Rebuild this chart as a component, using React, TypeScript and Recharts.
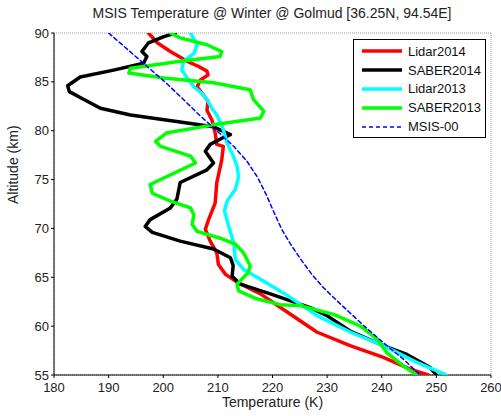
import React from "react";
import {
  ScatterChart,
  Scatter,
  XAxis,
  YAxis,
  CartesianGrid,
} from "recharts";

// [temperature K, altitude km], from top of the profile down
const lidar2014 = [
  [197.3, 90], [198.9, 89], [201.3, 88.1], [204.4, 87.1], [206.4, 86.6], [208, 86.1],
  [208.2, 85.7], [206.8, 85.2], [206.2, 84.5], [207.3, 83.7], [208.2, 83], [208, 82.1],
  [208.9, 81.1], [209.5, 79.8], [209.8, 78.6], [211, 78.4], [210.7, 77], [209.8, 74.7],
  [209.5, 72.6], [208.3, 70.9], [207.7, 69.9], [208.6, 68.7], [209.8, 67.5], [210.1, 66.3],
  [211.4, 65.3], [213.5, 64.5], [217.8, 63.3], [222, 61.7], [228.1, 59.4], [234.2, 58],
  [240.3, 56.8], [245.2, 55.6], [248.5, 55],
];

const saber2014 = [
  [202.2, 90], [200, 89.6], [197.3, 89], [196.1, 88.1], [197, 87.6], [196.4, 86.9],
  [190.9, 86.2], [184.8, 85.5], [182.5, 84.6], [182.8, 84], [184.8, 83.4], [188.5, 82.3],
  [194, 81.6], [203.1, 80.9], [209.2, 80.4], [212.3, 79.6], [211, 79.3], [208.6, 78.6],
  [207.7, 77.9], [209.2, 76.7], [208, 76], [203.1, 74.7], [202.5, 73], [201.3, 72.1],
  [197.6, 70.9], [196.7, 70.2], [198, 69.6], [203.1, 68.7], [209.2, 67.9], [212.3, 67],
  [212.8, 66.2], [212.6, 65.1], [214.1, 64.3], [219.6, 63.3], [226.9, 61.9], [229.9, 61.1],
  [234.2, 59.5], [240.3, 58], [244.6, 57.1], [248.8, 55.8], [250, 55],
];

const lidar2013 = [
  [205, 90], [206.2, 88.8], [205.6, 87.9], [203.7, 87.1], [203.4, 86.2], [204.4, 85.4],
  [205.6, 84.5], [207.1, 83.8], [208, 83.2], [208.9, 82.3], [209.8, 81.6], [210.4, 80.9],
  [211, 80.1], [211.7, 78.7], [212.6, 77.7], [213.5, 76.4], [213.8, 75.3], [213.2, 74],
  [211.7, 72.8], [211.2, 71.8], [212, 70.2], [212.9, 68.5], [213.2, 66.8], [214.7, 65.8],
  [217.8, 64.8], [222, 63.4], [228.1, 61.1], [234.2, 59.4], [240.3, 58], [246.4, 56.3],
  [251.9, 55],
];

const saber2013 = [
  [201.3, 90], [203.1, 89.5], [208, 88.8], [210.7, 88.1], [210.4, 87.6], [203.1, 87.1],
  [194, 86.4], [193.7, 85.9], [200.1, 85.4], [209.2, 84.9], [215.9, 84.2], [216.5, 83.2],
  [218.4, 82], [217.8, 81.3], [209.2, 80.6], [200.7, 79.8], [198.6, 78.9], [199.5, 78.4],
  [205, 77.4], [205.9, 76.7], [202.5, 75.8], [197.6, 74.5], [198, 73.6], [201.3, 72.8],
  [205, 72.1], [205.6, 71.4], [205.3, 70.4], [206.2, 69.7], [210.4, 69], [213.2, 68.4],
  [214.7, 67.5], [215.9, 66.2], [215.6, 65.5], [213.5, 64.3], [213.8, 63.6], [217.1, 62.8],
  [221.4, 62.2], [225.1, 62.1], [231.2, 61.2], [236.1, 60], [239.1, 58.7], [240.9, 57.3],
  [244, 55.9], [246.4, 55],
];

const msis00 = [
  [190, 90], [193.5, 88.3], [197, 86.6], [200.3, 85], [203.5, 83.3], [206.8, 81.5],
  [209.8, 80], [212.9, 78.4], [215.3, 76.9], [217.3, 75.2], [218.9, 73.4], [220.3, 71.6],
  [221.7, 69.9], [223.3, 68.4], [225.1, 66.9], [227.2, 65.3], [229.4, 63.9], [231.8, 62.6],
  [234.3, 61.3], [237, 59.9], [240.3, 58.3], [244, 56.6], [247, 55],
];

const xTicks = [180, 190, 200, 210, 220, 230, 240, 250, 260];
const yTicks = [55, 60, 65, 70, 75, 80, 85, 90];

const series = [
  { name: "Lidar2014", data: lidar2014, color: "#ff0000", width: 3.5, dash: undefined },
  { name: "SABER2014", data: saber2014, color: "#000000", width: 3.5, dash: undefined },
  { name: "Lidar2013", data: lidar2013, color: "#00ffff", width: 3.5, dash: undefined },
  { name: "SABER2013", data: saber2013, color: "#00ff00", width: 3.5, dash: undefined },
  { name: "MSIS-00", data: msis00, color: "#0000ff", width: 1.5, dash: "4 3" },
];

const toPoints = (rows: number[][]) => rows.map(([t, alt]) => ({ t, alt }));

const font = "'Liberation Sans', Arial, Helvetica, sans-serif";

const LegendBox = () => (
  <div
    style={{
      position: "absolute",
      top: 39,
      left: 353,
      width: 133,
      height: 99,
      border: "1.5px solid #000",
      background: "#fff",
      boxSizing: "border-box",
      padding: "2px 0 0 7px",
      fontFamily: font,
      fontSize: 13,
      color: "#111",
    }}
  >
    {series.map((s) => (
      <div key={s.name} style={{ display: "flex", alignItems: "center", height: 18.8 }}>
        <svg width={42} height={6} style={{ marginRight: 5 }}>
          <line
            x1={1}
            y1={3}
            x2={41}
            y2={3}
            stroke={s.color}
            strokeWidth={s.dash ? 1.5 : 3.5}
            strokeDasharray={s.dash}
          />
        </svg>
        <span>{s.name}</span>
      </div>
    ))}
  </div>
);

const NoDot = () => null;

export default function App() {
  return (
    <div style={{ position: "absolute", left: 0, top: 0, width: 501, height: 416, background: "#fff" }}>
      <div
        style={{
          position: "absolute",
          top: 5,
          left: 53,
          width: 438,
          textAlign: "center",
          fontFamily: font,
          fontSize: 14,
          color: "#222",
        }}
      >
        MSIS Temperature @ Winter @ Golmud [36.25N, 94.54E]
      </div>
      <ScatterChart
        width={501}
        height={416}
        margin={{ top: 33, right: 10, bottom: 21, left: 14 }}
        style={{ fontFamily: font }}
      >
        <CartesianGrid stroke="#999" strokeDasharray="1 1" />
        <XAxis
          xAxisId="b"
          type="number"
          dataKey="t"
          domain={[180, 260]}
          ticks={xTicks}
          allowDataOverflow
          height={20}
          tickSize={3}
          tickMargin={5}
          stroke="#000"
          tick={{ fill: "#222", fontSize: 13 }}
          label={{ value: "Temperature (K)", position: "bottom", offset: 2, fill: "#222", fontSize: 14 }}
        />
        <XAxis
          xAxisId="t"
          orientation="top"
          type="number"
          domain={[180, 260]}
          ticks={xTicks}
          height={0}
          tick={false}
          tickSize={3}
          stroke="#000"
        />
        <YAxis
          yAxisId="l"
          type="number"
          dataKey="alt"
          domain={[55, 90]}
          ticks={yTicks}
          allowDataOverflow
          width={40}
          tickSize={3}
          stroke="#000"
          tick={{ fill: "#222", fontSize: 13 }}
          label={{ value: "Altitude (km)", angle: -90, position: "insideLeft", offset: -1, fill: "#222", fontSize: 14 }}
        />
        <YAxis
          yAxisId="r"
          orientation="right"
          type="number"
          domain={[55, 90]}
          ticks={yTicks}
          width={0}
          tick={false}
          tickSize={3}
          stroke="#000"
        />
        {series.map((s) => (
          <Scatter
            key={s.name}
            name={s.name}
            xAxisId="b"
            yAxisId="l"
            data={toPoints(s.data)}
            fill={s.color}
            stroke={s.color}
            line={{ stroke: s.color, strokeWidth: s.width, strokeDasharray: s.dash, strokeLinejoin: "round", strokeLinecap: "round" }}
            lineType="joint"
            shape={NoDot}
            isAnimationActive={false}
          />
        ))}
      </ScatterChart>
      <LegendBox />
    </div>
  );
}
